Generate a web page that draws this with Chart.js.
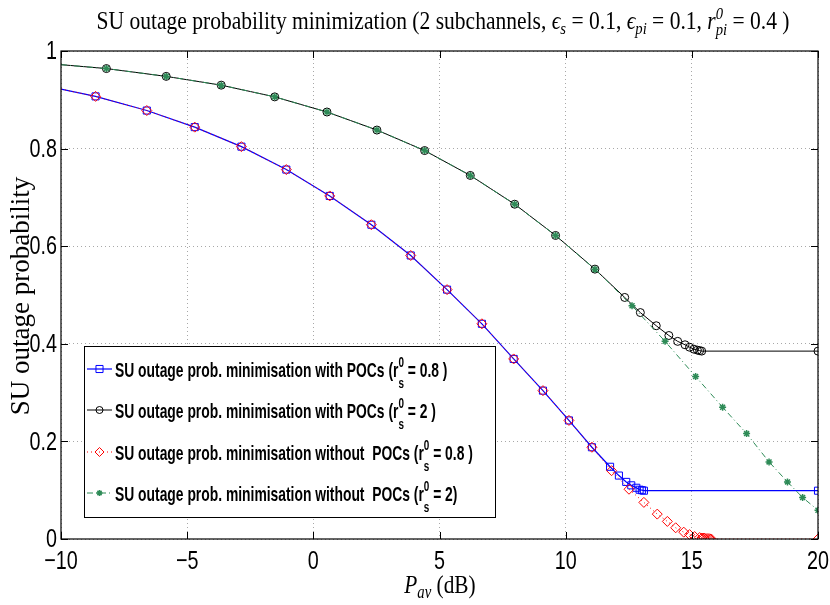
<!DOCTYPE html>
<html>
<head>
<meta charset="utf-8">
<script src="https://cdn.jsdelivr.net/npm/chart.js@4.4.0/dist/chart.umd.min.js"></script>
<style>
  html, body { margin: 0; padding: 0; background: #fff; }
  #wrap { width: 830px; height: 605px; }
</style>
</head>
<body>
<div id="wrap"><canvas id="chart" width="830" height="605"></canvas></div>
<script>
// values (P_av in dB, outage probability)
const xWithPocs08 = [-10, -8.63, -6.60, -4.70, -2.85, -1.07, 0.65, 2.30, 3.86, 5.30, 6.68, 7.94, 9.10, 10.13, 11.04, 11.76, 12.11, 12.40, 12.60, 12.80, 12.93, 13.02, 13.10, 20];
const yWithPocs08 = [0.922, 0.907, 0.878, 0.844, 0.804, 0.757, 0.703, 0.644, 0.581, 0.511, 0.441, 0.369, 0.304, 0.243, 0.188, 0.148, 0.130, 0.117, 0.110, 0.105, 0.101, 0.100, 0.099, 0.099];

const xWithPocs2 = [-10, -8.20, -5.83, -3.65, -1.53, 0.54, 2.52, 4.41, 6.22, 7.98, 9.60, 11.16, 12.34, 12.96, 13.59, 14.09, 14.44, 14.73, 14.91, 15.08, 15.22, 15.31, 15.39, 20];
const yWithPocs2 = [0.972, 0.964, 0.948, 0.930, 0.906, 0.875, 0.838, 0.796, 0.745, 0.686, 0.622, 0.553, 0.495, 0.464, 0.437, 0.417, 0.405, 0.398, 0.393, 0.389, 0.387, 0.386, 0.385, 0.385];

const xNoPocs08 = [-10, -8.63, -6.60, -4.70, -2.85, -1.07, 0.65, 2.30, 3.86, 5.30, 6.68, 7.94, 9.10, 10.13, 11.04, 11.82, 12.51, 13.10, 13.63, 14.03, 14.36, 14.68, 14.91, 15.11, 15.31, 15.40, 15.48, 15.56, 15.64, 15.71, 15.77, 20];
const yNoPocs08 = [0.922, 0.907, 0.878, 0.844, 0.804, 0.757, 0.703, 0.644, 0.581, 0.511, 0.441, 0.369, 0.304, 0.243, 0.188, 0.140, 0.102, 0.075, 0.051, 0.036, 0.023, 0.014, 0.009, 0.005, 0.003, 0.002, 0.002, 0.001, 0.001, 0.0005, 0, 0];

const xNoPocs2 = [-10, -8.20, -5.83, -3.65, -1.53, 0.54, 2.52, 4.41, 6.22, 7.98, 9.60, 11.16, 12.63, 13.94, 15.15, 16.22, 17.17, 18.06, 18.79, 19.39, 20];
const yNoPocs2 = [0.972, 0.964, 0.948, 0.930, 0.906, 0.875, 0.838, 0.796, 0.745, 0.686, 0.622, 0.553, 0.478, 0.405, 0.333, 0.270, 0.216, 0.158, 0.117, 0.085, 0.059];

const xTicks = [-10, -5, 0, 5, 10, 15, 20];
const yTicks = [0, 0.2, 0.4, 0.6, 0.8, 1];

const legendLabels = [
  ['SU outage prob. minimisation with POCs (r', ' = 0.8 )'],
  ['SU outage prob. minimisation with POCs (r', ' = 2 )'],
  ['SU outage prob. minimisation without  POCs (r', ' = 0.8 )'],
  ['SU outage prob. minimisation without  POCs (r', ' = 2)']
];

const BLUE = '#0000ff';
const BLACK = '#000000';
const RED = '#ff0000';
const GREEN = '#2e8b57';

const SANS = '"Liberation Sans", Arial, sans-serif';
const SERIF = '"Liberation Serif", "Times New Roman", serif';

function toPoints(xs, ys) {
  return xs.map((x, i) => ({ x: x, y: ys[i] }));
}

// first point of every curve sits on the y axis without a marker
function radiusSkipFirst(r) {
  return (c) => (c.dataIndex === 0 ? 0 : r);
}

// text squeezed horizontally, like the original figure
function squeezed(ctx, text, x, y, font, align, sx) {
  ctx.save();
  ctx.font = font;
  ctx.textAlign = 'left';
  const w = ctx.measureText(text).width * sx;
  let x0 = x;
  if (align === 'center') x0 = x - w / 2;
  if (align === 'right') x0 = x - w;
  ctx.translate(x0, y);
  ctx.scale(sx, 1);
  ctx.fillText(text, 0, 0);
  ctx.restore();
  return w;
}

// runs: {t, f, dy} or {sup, sub, f, dy1, dy2}
function runWidth(ctx, runs) {
  let w = 0;
  runs.forEach(r => {
    ctx.font = r.f;
    if (r.t !== undefined) w += ctx.measureText(r.t).width;
    else w += Math.max(ctx.measureText(r.sup).width, ctx.measureText(r.sub).width);
  });
  return w;
}

function drawRuns(ctx, runs, x, y, sx) {
  ctx.save();
  ctx.translate(x, y);
  ctx.scale(sx, 1);
  ctx.textAlign = 'left';
  ctx.textBaseline = 'alphabetic';
  let cx = 0;
  runs.forEach(r => {
    ctx.font = r.f;
    if (r.t !== undefined) {
      ctx.fillText(r.t, cx, r.dy || 0);
      cx += ctx.measureText(r.t).width;
    } else {
      ctx.fillText(r.sup, cx, r.dy1);
      ctx.fillText(r.sub, cx, r.dy2);
      cx += Math.max(ctx.measureText(r.sup).width, ctx.measureText(r.sub).width);
    }
  });
  ctx.restore();
}

function drawMarker(ctx, style, x, y, r, color, lw) {
  ctx.save();
  ctx.strokeStyle = color;
  ctx.lineWidth = lw;
  ctx.setLineDash([]);
  ctx.beginPath();
  if (style === 'rect') {
    const s = Math.SQRT1_2 * r;
    ctx.rect(x - s, y - s, 2 * s, 2 * s);
  } else if (style === 'circle') {
    ctx.arc(x, y, r, 0, Math.PI * 2);
  } else if (style === 'rectRot') {
    ctx.moveTo(x, y - r); ctx.lineTo(x + r, y); ctx.lineTo(x, y + r); ctx.lineTo(x - r, y); ctx.closePath();
  } else if (style === 'star') {
    ctx.moveTo(x - r, y); ctx.lineTo(x + r, y);
    ctx.moveTo(x, y - r); ctx.lineTo(x, y + r);
    const d = r * Math.SQRT1_2;
    ctx.moveTo(x - d, y - d); ctx.lineTo(x + d, y + d);
    ctx.moveTo(x - d, y + d); ctx.lineTo(x + d, y - d);
  }
  ctx.stroke();
  ctx.restore();
}

const figureDecor = {
  id: 'figureDecor',
  afterDraw(chart) {
    const ctx = chart.ctx;
    const a = chart.chartArea;
    const xs = chart.scales.x;
    const ys = chart.scales.y;

    // axes box and inward ticks
    ctx.save();
    ctx.strokeStyle = '#000';
    ctx.lineWidth = 1.2;
    ctx.setLineDash([]);
    ctx.strokeRect(a.left, a.top, a.right - a.left, a.bottom - a.top);
    ctx.lineWidth = 1;
    ctx.beginPath();
    xTicks.forEach(v => {
      const px = Math.round(xs.getPixelForValue(v)) + 0.5;
      ctx.moveTo(px, a.bottom); ctx.lineTo(px, a.bottom - 7);
      ctx.moveTo(px, a.top); ctx.lineTo(px, a.top + 7);
    });
    yTicks.forEach(v => {
      const py = Math.round(ys.getPixelForValue(v)) + 0.5;
      ctx.moveTo(a.left, py); ctx.lineTo(a.left + 7, py);
      ctx.moveTo(a.right, py); ctx.lineTo(a.right - 7, py);
    });
    ctx.stroke();
    ctx.restore();

    // tick labels
    ctx.save();
    ctx.fillStyle = '#000';
    ctx.textBaseline = 'middle';
    const tickFont = '26px ' + SANS;
    xTicks.forEach(v => {
      const txt = v < 0 ? '\u2212' + Math.abs(v) : String(v);
      squeezed(ctx, txt, xs.getPixelForValue(v), 562, tickFont, 'center', 0.76);
    });
    yTicks.forEach(v => {
      const txt = (v === 0 || v === 1) ? String(v) : v.toFixed(1);
      squeezed(ctx, txt, a.left - 4, ys.getPixelForValue(v) + 1, tickFont, 'right', 0.76);
    });
    ctx.restore();

    // title
    ctx.save();
    ctx.fillStyle = '#000';
    const tf = '25px ' + SERIF, ti = 'italic 25px ' + SERIF;
    const sf = '17px ' + SERIF, si = 'italic 17px ' + SERIF;
    const titleRuns = [
      { t: 'SU outage probability minimization (2 subchannels, ', f: tf },
      { t: '\u03f5', f: ti }, { t: 's', f: si, dy: 5 },
      { t: ' = 0.1, ', f: tf },
      { t: '\u03f5', f: ti }, { t: 'pi', f: si, dy: 5 },
      { t: ' = 0.1, ', f: tf },
      { t: 'r', f: ti }, { sup: '0', sub: 'pi', f: si, dy1: -10, dy2: 6 },
      { t: ' = 0.4 )', f: tf }
    ];
    const tw = runWidth(ctx, titleRuns);
    const tsx = 693 / tw;
    drawRuns(ctx, titleRuns, 443 - 693 / 2, 29, tsx);

    // x axis label
    const xRuns = [
      { t: 'P', f: 'italic 26px ' + SERIF },
      { t: 'av', f: 'italic 18px ' + SERIF, dy: 5 },
      { t: ' (dB)', f: '26px ' + SERIF }
    ];
    const xw = runWidth(ctx, xRuns) * 0.82;
    drawRuns(ctx, xRuns, 440 - xw / 2, 593, 0.82);

    // y axis label
    ctx.save();
    ctx.translate(29, 296);
    ctx.rotate(-Math.PI / 2);
    ctx.font = '27px ' + SERIF;
    ctx.textAlign = 'center';
    ctx.textBaseline = 'alphabetic';
    ctx.fillText('SU outage probability', 0, 0);
    ctx.restore();
    ctx.restore();

    // legend
    ctx.save();
    ctx.fillStyle = '#fff';
    ctx.fillRect(84, 346, 411, 171);
    ctx.strokeStyle = '#000';
    ctx.lineWidth = 1;
    ctx.setLineDash([]);
    ctx.strokeRect(84.5, 346.5, 411, 171);
    const lf = 'bold 21px ' + SANS;
    ctx.font = lf;
    const lsx = 278 / ctx.measureText('SU outage prob. minimisation with POCs (').width;
    const rows = [369, 410, 452, 493];
    chart.data.datasets.forEach((ds, i) => {
      const y = rows[i];
      ctx.save();
      ctx.strokeStyle = ds.borderColor;
      ctx.lineWidth = ds.borderWidth;
      ctx.setLineDash(ds.borderDash || []);
      ctx.beginPath();
      ctx.moveTo(87, y); ctx.lineTo(112, y);
      ctx.stroke();
      ctx.restore();
      drawMarker(ctx, ds.pointStyle, 99.5, y, ds.legendRadius, ds.borderColor, ds.pointBorderWidth);
      ctx.fillStyle = '#000';
      drawRuns(ctx, [
        { t: legendLabels[i][0], f: lf },
        { sup: '0', sub: 's', f: 'bold 15px ' + SANS, dy1: -10, dy2: 11 },
        { t: legendLabels[i][1], f: lf }
      ], 115, y + 8, lsx);
    });
    ctx.restore();
  }
};

const ctx = document.getElementById('chart').getContext('2d');
new Chart(ctx, {
  type: 'scatter',
  data: {
    datasets: [
      {
        label: 'with POCs r0s=0.8',
        data: toPoints(xWithPocs08, yWithPocs08),
        showLine: true,
        borderColor: BLUE,
        borderWidth: 1.2,
        pointStyle: 'rect',
        pointRadius: radiusSkipFirst(5),
        legendRadius: 5,
        pointBorderColor: BLUE,
        pointBackgroundColor: 'rgba(0,0,0,0)',
        pointBorderWidth: 1,
        order: 4
      },
      {
        label: 'with POCs r0s=2',
        data: toPoints(xWithPocs2, yWithPocs2),
        showLine: true,
        borderColor: BLACK,
        borderWidth: 1,
        pointStyle: 'circle',
        pointRadius: radiusSkipFirst(4),
        legendRadius: 3.5,
        pointBorderColor: BLACK,
        pointBackgroundColor: 'rgba(0,0,0,0)',
        pointBorderWidth: 1,
        order: 3
      },
      {
        label: 'without POCs r0s=0.8',
        data: toPoints(xNoPocs08, yNoPocs08),
        showLine: true,
        borderColor: RED,
        borderWidth: 1,
        borderDash: [1, 3],
        pointStyle: 'rectRot',
        pointRadius: radiusSkipFirst(5),
        legendRadius: 4.5,
        pointBorderColor: RED,
        pointBackgroundColor: 'rgba(0,0,0,0)',
        pointBorderWidth: 1,
        order: 2
      },
      {
        label: 'without POCs r0s=2',
        data: toPoints(xNoPocs2, yNoPocs2),
        showLine: true,
        borderColor: GREEN,
        borderWidth: 1,
        borderDash: [6, 3, 1, 3],
        pointStyle: 'star',
        pointRadius: radiusSkipFirst(3.5),
        legendRadius: 3,
        pointBorderColor: GREEN,
        pointBackgroundColor: GREEN,
        pointBorderWidth: 1.5,
        order: 1
      }
    ]
  },
  options: {
    responsive: false,
    animation: false,
    layout: {
      padding: { left: 61, right: 12, top: 51, bottom: 66 }
    },
    elements: {
      line: { tension: 0 }
    },
    plugins: {
      legend: { display: false },
      tooltip: { enabled: false },
      title: { display: false }
    },
    scales: {
      x: {
        type: 'linear',
        min: -10,
        max: 20,
        ticks: { stepSize: 5, display: false },
        grid: { color: '#a8a8a8', lineWidth: 1, drawTicks: false },
        border: { display: false, dash: [1, 3] },
        afterFit: (scale) => { scale.height = 0; }
      },
      y: {
        type: 'linear',
        min: 0,
        max: 1,
        ticks: { stepSize: 0.2, display: false },
        grid: { color: '#a8a8a8', lineWidth: 1, drawTicks: false },
        border: { display: false, dash: [1, 3] },
        afterFit: (scale) => { scale.width = 0; }
      }
    }
  },
  plugins: [figureDecor]
});
</script>
</body>
</html>
